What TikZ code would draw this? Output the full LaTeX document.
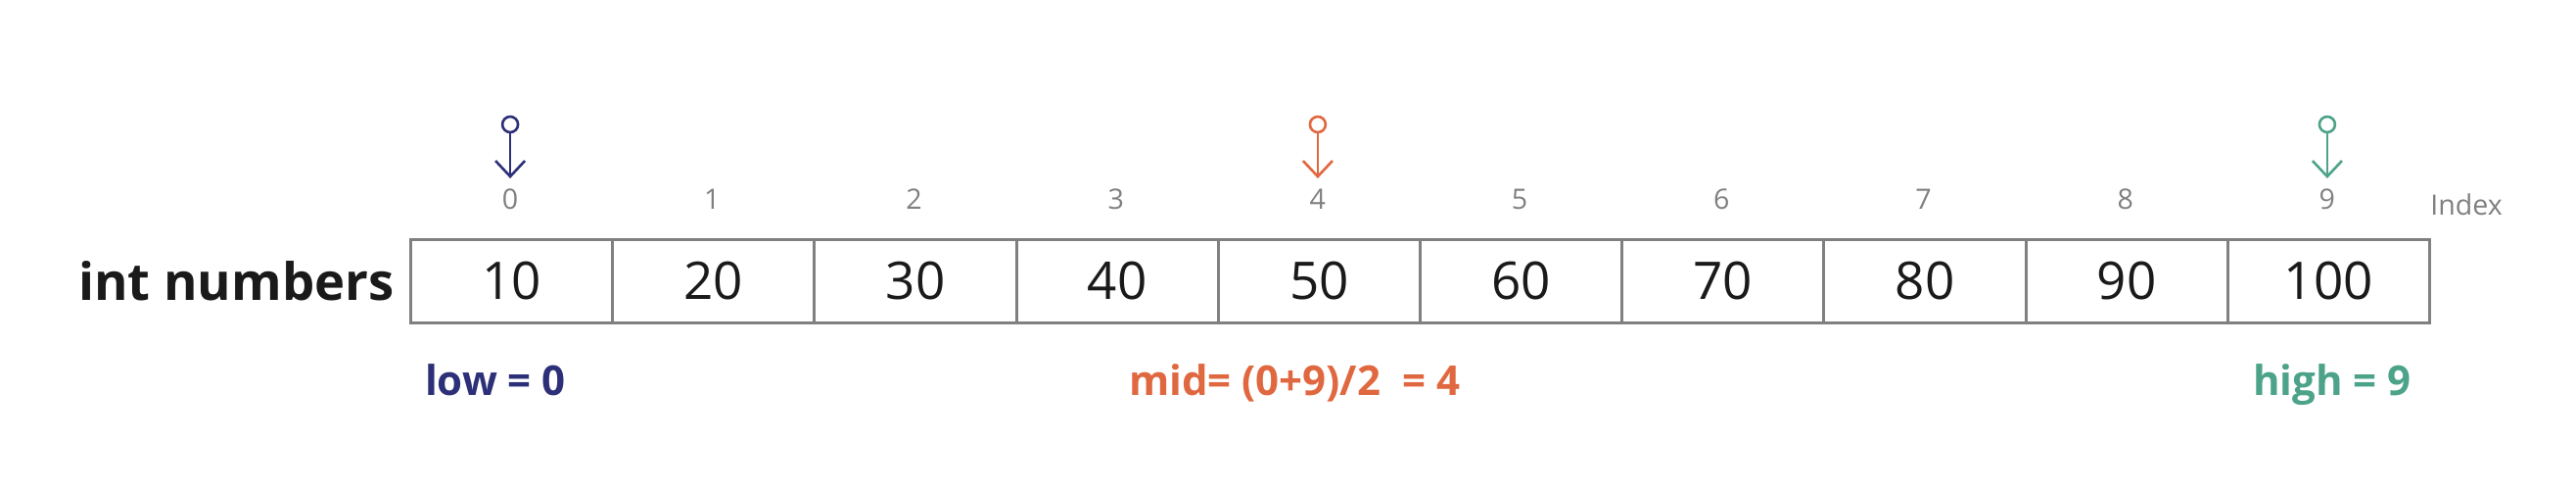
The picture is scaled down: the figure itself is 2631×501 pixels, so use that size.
\documentclass[tikz,border=0pt]{standalone}
\usepackage{fontspec}
\setmainfont{Open Sans}
\usetikzlibrary{arrows.meta}
\definecolor{navy}{RGB}{45,48,120}
\definecolor{orng}{RGB}{224,104,64}
\definecolor{grn}{RGB}{76,163,137}
\definecolor{gry}{RGB}{128,128,128}
\definecolor{ink}{RGB}{26,26,26}
\begin{document}
\begin{tikzpicture}[x=0.5pt,y=-0.5pt,
 cell/.style={draw=gry, line width=1.5pt, minimum width=103.1pt, minimum height=42.5pt, inner sep=0, anchor=north west,
   font=\fontsize{26.5}{30}\selectfont, text=ink},
 idx/.style={font=\fontsize{14.3}{16}\selectfont, text=gry, anchor=base, inner sep=0},
 dot/.style={circle, draw, line width=1.3pt, minimum size=8pt, inner sep=0},
 ptr/.style={line width=1.3pt, -{Straight Barb[length=8pt,width=15pt]}},
 res/.style={font=\bfseries\fontsize{21}{24}\selectfont, anchor=base, inner sep=0}]
\useasboundingbox (0,0) rectangle (2631,501);
\foreach \v [count=\j from 0] in {10,20,30,40,50,60,70,80,90,100}{
  \node[cell] (c\j) at ({418+\j*206.2},243) {\v};
  \node[idx] (i\j) at ({418+(\j+0.5)*206.2},214) {\j};
}
\node[font=\bfseries\fontsize{26.3}{30}\selectfont, text=ink, anchor=base east, inner sep=0] (lbl) at (403,307) {int numbers};
\node[font=\fontsize{14.3}{16}\selectfont, text=gry, anchor=base west, inner sep=0] (idxlbl) at (2482,220) {Index};
% pointers
\node[dot, draw=navy] (lowdot) at ({418+0.5*206.2},127) {};
\coordinate (lowtip) at ({418+0.5*206.2},182);
\draw[ptr, navy] (lowdot) -- (lowtip);
\node[dot, draw=orng] (middot) at ({418+4.5*206.2},127) {};
\coordinate (midtip) at ({418+4.5*206.2},182);
\draw[ptr, orng] (middot) -- (midtip);
\node[dot, draw=grn] (highdot) at ({418+9.5*206.2},127) {};
\coordinate (hightip) at ({418+9.5*206.2},182);
\draw[ptr, grn] (highdot) -- (hightip);
% results
\node[res, text=navy] (low) at (506,404) {low = 0};
\node[res, text=orng] (mid) at (1322,404) {mid= (0+9)/2~~= 4};
\node[res, text=grn] (high) at (2382,404) {high = 9};
\end{tikzpicture}
\end{document}
